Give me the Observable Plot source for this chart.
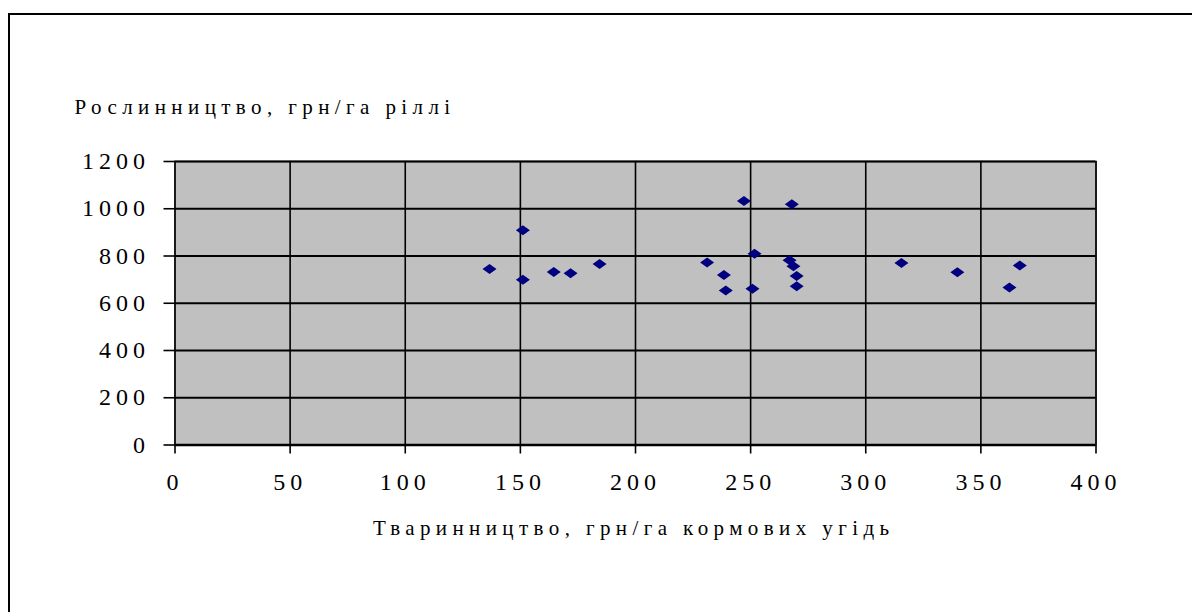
<!DOCTYPE html>
<html>
<head>
<meta charset="utf-8">
<script src="https://cdn.jsdelivr.net/npm/d3@7"></script>
<script src="https://cdn.jsdelivr.net/npm/@observablehq/plot@0.6"></script>
<style>
  html, body { margin: 0; padding: 0; background: #fff; overflow: hidden; }
  #wrap { position: relative; width: 1192px; height: 612px; }
  #border { position: absolute; left: 8px; top: 12.5px; right: -20px; bottom: -20px;
            border-left: 2px solid #000; border-top: 2px solid #000; pointer-events: none; }
  #wrap svg { position: absolute; left: 0; top: 0; }
  #wrap svg, #wrap svg text { font-family: "Liberation Serif", "Times New Roman", serif !important; }
  g[aria-label="x-axis tick label"] text, g[aria-label="y-axis tick label"] text { letter-spacing: 5px; }
  g[aria-label="text"] text { letter-spacing: 5.4px; }
</style>
</head>
<body>
<div id="wrap"><div id="border"></div></div>
<script>
// Data
const livestock = [136.6, 151.1, 151.1, 164.5, 171.8, 184.4, 231.1, 238.4, 239.2, 247.1, 250.8, 251.7, 266.9, 268.6, 270.0, 270.0, 267.9, 315.5, 339.8, 362.4, 366.9];
const cropGrowing = [745, 909, 700, 732, 727, 766, 773, 720, 654, 1033, 661, 810, 782, 757, 715, 672, 1019, 770, 731, 667, 760];
const xTicks = [0, 50, 100, 150, 200, 250, 300, 350, 400];
const yTicks = [0, 200, 400, 600, 800, 1000, 1200];
const xTitle = "Тваринництво, грн/га кормових угідь";
const yTitle = "Рослинництво, грн/га ріллі";

const points = livestock.map((x, i) => ({x, y: cropGrowing[i]}));

// flattened diamond like the Excel marker
const flatDiamond = {
  draw(context, size) {
    const r = Math.sqrt(size / Math.PI);
    const w = r * 1.4, h = r;
    context.moveTo(-w, 0);
    context.lineTo(0, -h);
    context.lineTo(w, 0);
    context.lineTo(0, h);
    context.closePath();
  }
};

const chart = Plot.plot({
  width: 1192,
  height: 612,
  marginLeft: 174.5,
  marginRight: 96.5,
  marginTop: 161,
  marginBottom: 167.5,
  style: {fontSize: "24px", background: "transparent", color: "#000"},
  x: {domain: [0, 400]},
  y: {domain: [0, 1200]},
  marks: [
    Plot.frame({fill: "#c0c0c0", stroke: "#808080", strokeWidth: 2}),
    Plot.gridX(xTicks.slice(1), {stroke: "#000", strokeOpacity: 1, strokeWidth: 1.6}),
    Plot.gridY(yTicks.slice(1), {stroke: "#000", strokeOpacity: 1, strokeWidth: 2}),
    Plot.ruleY([0], {stroke: "#000", strokeWidth: 2.5}),
    Plot.ruleX([0], {stroke: "#000", strokeWidth: 1.6}),
    Plot.axisX(xTicks, {tickSize: 9, tickPadding: 19.3, fontSize: 24, tickFormat: d => String(d), label: null, stroke: "#000", strokeWidth: 1.6, fill: "#000"}),
    Plot.axisY(yTicks, {tickSize: 11, tickPadding: 14, fontSize: 24, tickFormat: d => String(d), label: null, stroke: "#000", strokeWidth: 1.6, fill: "#000"}),
    Plot.dot(points, {x: "x", y: "y", symbol: flatDiamond, r: 5, fill: "#000080", stroke: "none"}),
    Plot.text([yTitle], {frameAnchor: "top-left", textAnchor: "start", lineAnchor: "middle", dx: -100.5, dy: -54.7, fontSize: 21, fill: "#000"}),
    Plot.text([xTitle], {frameAnchor: "bottom", textAnchor: "middle", lineAnchor: "middle", dx: -1.8, dy: 82.8, fontSize: 21, fill: "#000"})
  ]
});
document.getElementById("wrap").prepend(chart);
</script>
</body>
</html>
